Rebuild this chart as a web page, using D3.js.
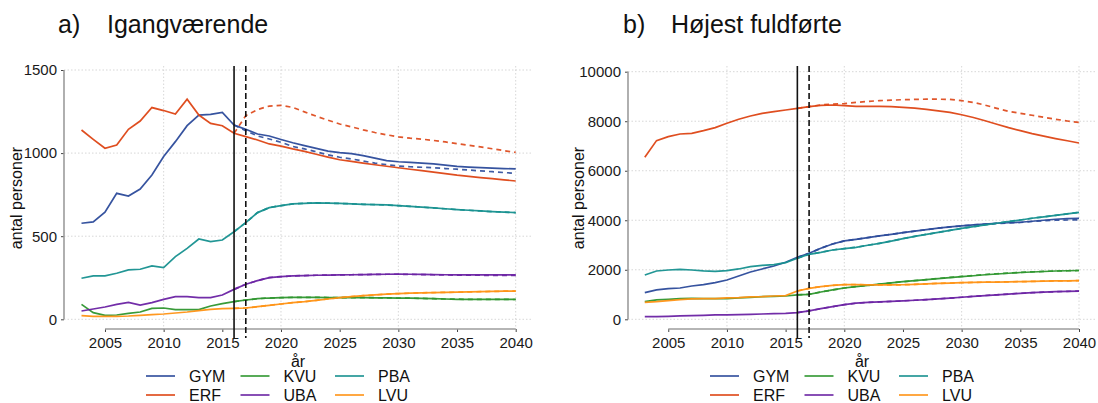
<!DOCTYPE html>
<html><head><meta charset="utf-8">
<script src="https://cdn.jsdelivr.net/npm/d3@7"></script>
<style>
body{margin:0;background:#fff;}
text{font-family:"Liberation Sans",Arial,sans-serif;}
</style></head>
<body><svg id="c" width="1098" height="403"></svg>
<script>
const years = [2003,2004,2005,2006,2007,2008,2009,2010,2011,2012,2013,2014,2015,2016,2017,2018,2019,2020,2021,2022,2023,2024,2025,2026,2027,2028,2029,2030,2031,2032,2033,2034,2035,2036,2037,2038,2039,2040];
const altYears = [2016,2017,2018,2019,2020,2021,2022,2023,2024,2025,2026,2027,2028,2029,2030,2031,2032,2033,2034,2035,2036,2037,2038,2039,2040];
const seriesNames = ["GYM","ERF","KVU","UBA","PBA","LVU"];
const seriesColors = ["#2B4A9A","#DD4414","#2E962E","#6A22A3","#16908F","#FF9214"];
const xTicks = [2005,2010,2015,2020,2025,2030,2035,2040];
const xGrid = [2010,2020,2030,2040];
const yTicksA = [0,500,1000,1500];
const yTicksB = [0,2000,4000,6000,8000,10000];
const titleA = ["a)","Igangværende"];
const titleB = ["b)","Højest fuldførte"];
const yLabel = "antal personer";
const xLabel = "år";

// Panel a) solid (2003-2040)
const GYM_a = [578,586,644,758,742,784,868,979,1069,1165,1229,1233,1245,1169,1143,1115,1103,1082,1062,1045,1028,1012,1003,997,985,970,955,948,944,940,935,928,920,916,913,910,907,905];
const ERF_a = [1139,1083,1029,1049,1143,1193,1274,1256,1235,1324,1229,1179,1165,1119,1099,1079,1055,1042,1025,1010,993,976,960,950,940,930,921,912,903,894,885,876,867,860,853,846,839,832];
const KVU_a = [90,40,24,26,36,44,66,68,58,58,58,80,94,106,116,124,128,130,132,132,132,131,130,130,130,129,129,128,127,126,124,122,120,120,120,120,120,120];
const UBA_a = [50,62,74,90,102,86,100,120,136,136,130,130,146,180,211,233,251,257,261,263,265,266,267,268,269,270,271,272,271,270,269,268,267,267,267,267,267,267];
const PBA_a = [247,261,261,277,297,301,321,311,377,427,483,467,477,527,582,642,672,684,694,698,700,699,697,695,692,690,688,684,680,675,670,665,660,656,652,648,645,642];
const LVU_a = [22,18,18,18,20,24,28,32,38,44,52,60,64,66,68,76,84,92,100,106,114,122,130,136,142,147,151,155,157,159,161,162,163,165,166,168,169,170];
// Panel a) alternative (dashed, 2016-2040)
const GYM_a_alt = [1169,1135,1103,1085,1065,1040,1025,1008,990,975,965,952,940,930,922,918,915,912,907,903,898,893,888,883,878];
const ERF_a_alt = [1119,1225,1262,1283,1287,1275,1248,1222,1198,1175,1158,1140,1124,1110,1098,1090,1084,1076,1067,1057,1047,1037,1026,1015,1004];
const KVU_a_alt = [106,116,124,128,130,132,132,132,131,131,131,130,130,129,128,127,126,124,122,121,120,120,120,120,119];
const UBA_a_alt = [180,211,233,251,257,261,263,265,266,267,268,269,270,271,271,270,269,268,267,266,265,265,264,264,264];
const PBA_a_alt = [527,582,642,672,684,694,698,700,699,697,695,692,690,688,684,680,675,670,665,660,656,652,648,645,642];
const LVU_a_alt = [66,68,76,84,92,100,106,114,122,130,136,142,147,151,155,157,159,161,162,163,165,166,168,169,170];

// Panel b) solid (2003-2040)
const GYM_b = [1077,1185,1239,1265,1346,1400,1481,1589,1750,1912,2033,2154,2302,2504,2666,2868,3043,3164,3231,3300,3370,3430,3500,3560,3620,3680,3730,3770,3810,3850,3880,3900,3920,3960,4000,4040,4070,4080];
const ERF_b = [6543,7216,7377,7485,7512,7620,7741,7916,8078,8212,8320,8387,8454,8522,8589,8643,8656,8630,8603,8600,8600,8590,8560,8530,8480,8420,8360,8260,8150,8020,7880,7740,7620,7500,7400,7300,7210,7120];
const KVU_b = [713,781,808,835,848,835,835,835,862,889,915,929,942,983,1010,1104,1185,1265,1319,1370,1420,1470,1520,1560,1600,1640,1680,1720,1760,1800,1830,1860,1890,1910,1930,1950,1960,1970];
const UBA_b = [108,108,121,135,148,162,175,175,188,202,215,229,242,269,337,431,512,590,650,680,700,720,745,770,795,825,855,890,925,960,990,1020,1050,1075,1095,1115,1130,1140];
const PBA_b = [1790,1952,1992,2019,1992,1952,1939,1966,2033,2127,2181,2208,2289,2464,2625,2706,2800,2854,2908,2990,3070,3160,3260,3350,3430,3510,3590,3670,3740,3810,3880,3950,4010,4080,4140,4200,4260,4320];
const LVU_b = [687,713,754,794,821,835,835,862,875,902,915,942,956,1144,1252,1319,1373,1400,1400,1390,1390,1390,1395,1410,1430,1450,1465,1480,1490,1500,1505,1515,1520,1530,1540,1550,1555,1560];
// Panel b) alternative (dashed, 2016-2040)
const GYM_b_alt = [2504,2666,2868,3043,3164,3231,3300,3370,3430,3500,3560,3620,3680,3730,3770,3810,3840,3870,3890,3910,3950,3980,4000,4010,4020];
const ERF_b_alt = [8522,8589,8660,8690,8710,8760,8800,8830,8850,8870,8880,8890,8890,8880,8830,8760,8650,8520,8400,8320,8240,8160,8080,8010,7950];
const KVU_b_alt = [983,1010,1104,1185,1265,1319,1370,1420,1470,1520,1560,1600,1650,1690,1730,1770,1810,1840,1870,1895,1915,1935,1950,1960,1970];
const UBA_b_alt = [269,337,431,512,590,650,680,700,720,745,770,795,825,855,890,925,960,990,1020,1050,1075,1095,1115,1130,1140];
const PBA_b_alt = [2464,2625,2706,2800,2854,2908,2990,3070,3160,3260,3350,3430,3510,3590,3670,3740,3810,3880,3950,4010,4080,4140,4200,4260,4320];
const LVU_b_alt = [1144,1252,1319,1373,1400,1400,1390,1390,1390,1395,1410,1430,1450,1465,1480,1490,1500,1505,1515,1520,1530,1540,1550,1555,1560];

const svg = d3.select("#c");

function panel(cfg){
  const g = svg.append("g");
  const x = d3.scaleLinear().domain([2003,2040]).range([cfg.x0, cfg.x0 + 434.2]);
  const y = d3.scaleLinear().domain([0, cfg.yMax]).range([319.3, cfg.yTopPx]);
  const top = 66, bottom = 330;
  const axisX = cfg.axisX;
  g.selectAll(".hg").data(cfg.yTicks).join("line")
    .attr("x1", axisX).attr("x2", cfg.gridRight)
    .attr("y1", d=>y(d)).attr("y2", d=>y(d))
    .attr("stroke","#d2d2d2").attr("stroke-width",0.9).attr("stroke-dasharray","1.5,2");
  g.selectAll(".vg").data(xGrid).join("line")
    .attr("x1", d=>x(d)).attr("x2", d=>x(d))
    .attr("y1", top).attr("y2", bottom)
    .attr("stroke","#d2d2d2").attr("stroke-width",0.9).attr("stroke-dasharray","1.5,2");
  const ya = g.append("g").attr("transform",`translate(${axisX},0)`)
    .call(d3.axisLeft(y).tickValues(cfg.yTicks).tickSize(3).tickPadding(4).tickFormat(d3.format("d")));
  ya.select(".domain").remove();
  ya.append("line").attr("x1",0).attr("x2",0).attr("y1",y(0)).attr("y2",y(cfg.yMax)).attr("stroke","#9c9c9c").attr("stroke-width",1.6);
  ya.selectAll(".tick line").attr("stroke","#444");
  ya.selectAll("text").attr("font-size",15).attr("fill","#1a1a1a").attr("font-family","Liberation Sans, Arial, sans-serif");
  const xa = g.append("g").attr("transform",`translate(0,329)`)
    .call(d3.axisBottom(x).tickValues(xTicks).tickSize(3).tickPadding(5).tickFormat(d3.format("d")));
  xa.select(".domain").remove();
  xa.append("line").attr("x1",x(2005)).attr("x2",x(2040)).attr("y1",0).attr("y2",0).attr("stroke","#9c9c9c").attr("stroke-width",1.6);
  xa.selectAll(".tick line").attr("stroke","#444");
  xa.selectAll("text").attr("font-size",15).attr("fill","#1a1a1a").attr("font-family","Liberation Sans, Arial, sans-serif");
  const line = d3.line().x(d=>x(d[0])).y(d=>y(d[1]));
  cfg.alt.forEach((vals,i)=>{
    g.append("path").datum(altYears.map((yr,j)=>[yr, vals[j]]))
      .attr("d", line).attr("fill","none").attr("stroke", seriesColors[i])
      .attr("stroke-width",1.7).attr("stroke-dasharray","5,4").attr("opacity",0.9);
  });
  cfg.solid.forEach((vals,i)=>{
    g.append("path").datum(years.map((yr,j)=>[yr, vals[j]]))
      .attr("d", line).attr("fill","none").attr("stroke", seriesColors[i])
      .attr("stroke-width",1.7).attr("opacity",0.95);
  });
  g.append("line").attr("x1",x(2016)).attr("x2",x(2016)).attr("y1",top).attr("y2",338)
    .attr("stroke","#111").attr("stroke-width",1.6);
  g.append("line").attr("x1",x(2017)).attr("x2",x(2017)).attr("y1",top).attr("y2",338)
    .attr("stroke","#111").attr("stroke-width",1.6).attr("stroke-dasharray","6,3");
  g.append("text").attr("x",cfg.titleX).attr("y",33).attr("font-size",25).attr("fill","#111").text(cfg.title[0]);
  g.append("text").attr("x",cfg.titleX2).attr("y",33).attr("font-size",25).attr("fill","#111").text(cfg.title[1]);
  g.append("text").attr("transform",`translate(${cfg.yLabelX},198) rotate(-90)`)
    .attr("text-anchor","middle").attr("font-size",16).attr("fill","#111").text(yLabel);
  g.append("text").attr("x",cfg.xLabelX).attr("y",367).attr("text-anchor","middle")
    .attr("font-size",16).attr("fill","#111").text(xLabel);
  const order = [[0,1],[2,3],[4,5]];
  order.forEach((col,ci)=>{
    col.forEach((si,ri)=>{
      const lx = cfg.legX + ci*94.5, ly = 376 + ri*19;
      g.append("line").attr("x1",lx).attr("x2",lx+29).attr("y1",ly).attr("y2",ly)
        .attr("stroke",seriesColors[si]).attr("stroke-width",1.6);
      g.append("text").attr("x",lx+43).attr("y",ly+6).attr("font-size",16).attr("fill","#111").text(seriesNames[si]);
    });
  });
}

panel({x0:81.5, axisX:64, gridRight:533, yMax:1500, yTopPx:70, yTicks:yTicksA,
  solid:[GYM_a,ERF_a,KVU_a,UBA_a,PBA_a,LVU_a],
  alt:[GYM_a_alt,ERF_a_alt,KVU_a_alt,UBA_a_alt,PBA_a_alt,LVU_a_alt],
  title:titleA, titleX:58, titleX2:107, yLabelX:22, xLabelX:298, legX:146});
panel({x0:644.8, axisX:628, gridRight:1097, yMax:10000, yTopPx:71.7, yTicks:yTicksB,
  solid:[GYM_b,ERF_b,KVU_b,UBA_b,PBA_b,LVU_b],
  alt:[GYM_b_alt,ERF_b_alt,KVU_b_alt,UBA_b_alt,PBA_b_alt,LVU_b_alt],
  title:titleB, titleX:623, titleX2:671, yLabelX:584, xLabelX:862, legX:710});
</script></body></html>
